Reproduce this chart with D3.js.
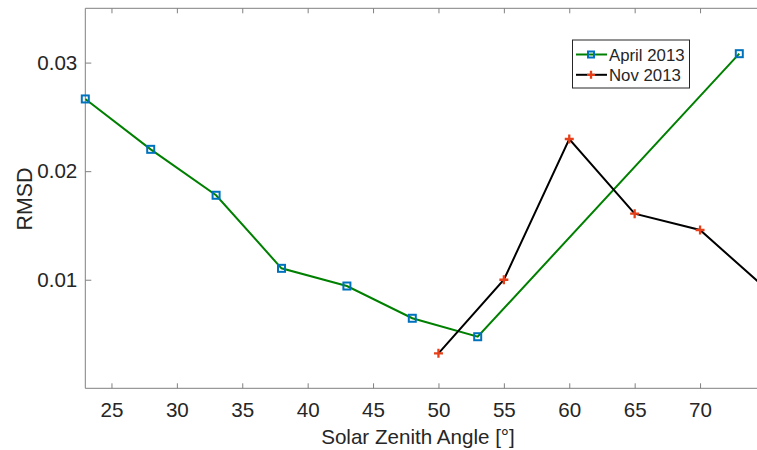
<!DOCTYPE html>
<html>
<head>
<meta charset="utf-8">
<script src="https://cdnjs.cloudflare.com/ajax/libs/d3/7.8.5/d3.min.js"></script>
<style>
  body { margin: 0; background: #fff; }
  text { font-family: "Liberation Sans", Arial, sans-serif; fill: #262626; }
</style>
</head>
<body>
<div id="chart"></div>
<script>
// Data
var aprilAngle = [23, 28, 33, 38, 43, 48, 53, 73];
var aprilRmsd  = [0.02665, 0.02201, 0.01778, 0.01105, 0.00942, 0.00645, 0.00475, 0.03082];

var novAngle = [50, 55, 60, 65, 70, 75];
var novRmsd  = [0.00322, 0.01000, 0.02296, 0.01608, 0.01458, 0.00922];

var xTicks = [25, 30, 35, 40, 45, 50, 55, 60, 65, 70];
var yTicks = [0.01, 0.02, 0.03];
var seriesNames = ["April 2013", "Nov 2013"];

// Sizes (note: "top" is taken by window.top, so use other names)
var W = 757, H = 450;
var plotLeft = 85.3, plotTop = 8.3, plotBottom = 388.3;
var fontSize = 20.6;

var svg = d3.select("#chart").append("svg")
    .attr("width", W)
    .attr("height", H);

// x axis runs past the right edge of the picture (xlim 23..75)
var x = d3.scaleLinear().domain([23, 75]).range([plotLeft, plotLeft + 52 * 13.08]);
var y = d3.scaleLinear().domain([0, 0.035]).range([plotBottom, plotTop]);
var plotRight = x.range()[1];

var axisColor = "#808080";

// box lines
svg.append("line").attr("x1", plotLeft).attr("x2", plotRight).attr("y1", plotTop).attr("y2", plotTop)
    .attr("stroke", axisColor).attr("stroke-width", 1);
svg.append("line").attr("x1", plotLeft).attr("x2", plotRight).attr("y1", plotBottom).attr("y2", plotBottom)
    .attr("stroke", axisColor).attr("stroke-width", 1);
svg.append("line").attr("x1", plotLeft).attr("x2", plotLeft).attr("y1", plotTop).attr("y2", plotBottom)
    .attr("stroke", axisColor).attr("stroke-width", 1);

// bottom axis, ticks pointing inward
var xAxis = svg.append("g").attr("transform", "translate(0," + plotBottom + ")")
    .call(d3.axisBottom(x).tickValues(xTicks).tickSizeInner(-5).tickSizeOuter(0).tickPadding(14));
// top ticks
var xTop = svg.append("g").attr("transform", "translate(0," + plotTop + ")")
    .call(d3.axisTop(x).tickValues(xTicks).tickSizeInner(-5).tickSizeOuter(0).tickFormat(""));
// left axis
var yAxis = svg.append("g").attr("transform", "translate(" + plotLeft + ",0)")
    .call(d3.axisLeft(y).tickValues(yTicks).tickSizeInner(-6).tickSizeOuter(0)
        .tickPadding(8).tickFormat(d3.format(".2f")));

[xAxis, xTop, yAxis].forEach(function(g) {
    g.select(".domain").remove();
    g.selectAll(".tick line").attr("stroke", axisColor);
    g.selectAll("text").attr("font-size", fontSize).attr("fill", "#262626")
        .style("font-family", "Liberation Sans, Arial, sans-serif");
});
xAxis.selectAll("text").attr("dy", "0.71em");

// axis titles
svg.append("text").attr("x", 418).attr("y", 444)
    .attr("text-anchor", "middle").attr("font-size", fontSize)
    .text("Solar Zenith Angle [\u00b0]");
svg.append("text")
    .attr("transform", "translate(32,199) rotate(-90)")
    .attr("text-anchor", "middle").attr("font-size", 21.4)
    .text("RMSD");

// clip lines to the axes box
svg.append("clipPath").attr("id", "plotclip")
    .append("rect").attr("x", plotLeft).attr("y", plotTop)
    .attr("width", plotRight - plotLeft).attr("height", plotBottom - plotTop);

var plot = svg.append("g").attr("clip-path", "url(#plotclip)");
var line = d3.line().x(function(d) { return x(d[0]); }).y(function(d) { return y(d[1]); });

var april = d3.zip(aprilAngle, aprilRmsd);
var nov = d3.zip(novAngle, novRmsd);

var green = "#008000", blue = "#0072BD", red = "#e5401a";

plot.append("path").datum(april).attr("d", line)
    .attr("fill", "none").attr("stroke", green).attr("stroke-width", 2);

// April markers: open squares
svg.selectAll(".sq").data(april).enter().append("rect").attr("class", "sq")
    .attr("x", function(d) { return x(d[0]) - 3.5; })
    .attr("y", function(d) { return y(d[1]) - 3.5; })
    .attr("width", 7).attr("height", 7)
    .attr("fill", "none").attr("stroke", blue).attr("stroke-width", 2);

plot.append("path").datum(nov).attr("d", line)
    .attr("fill", "none").attr("stroke", "#000").attr("stroke-width", 2);

// Nov markers: plus signs
plot.selectAll(".pl").data(nov).enter().append("path").attr("class", "pl")
    .attr("d", function(d) {
        var cx = x(d[0]), cy = y(d[1]), r = 4.5;
        return "M" + (cx - r) + "," + cy + "H" + (cx + r) + "M" + cx + "," + (cy - r) + "V" + (cy + r);
    })
    .attr("stroke", red).attr("stroke-width", 2.3);

// legend
var lg = svg.append("g");
lg.append("rect").attr("x", 572.5).attr("y", 40).attr("width", 117).attr("height", 48)
    .attr("fill", "#fff").attr("stroke", "#262626").attr("stroke-width", 1);

var rows = [
    { name: seriesNames[0], color: green, y: 54.5 },
    { name: seriesNames[1], color: "#000", y: 74.8 }
];
rows.forEach(function(r, i) {
    lg.append("line").attr("x1", 576).attr("x2", 607).attr("y1", r.y).attr("y2", r.y)
        .attr("stroke", r.color).attr("stroke-width", 2);
    if (i == 0) {
        lg.append("rect").attr("x", 588).attr("y", r.y - 3).attr("width", 6).attr("height", 6)
            .attr("fill", "none").attr("stroke", blue).attr("stroke-width", 2);
    } else {
        lg.append("path")
            .attr("d", "M587," + r.y + "H595M591," + (r.y - 4) + "V" + (r.y + 4))
            .attr("stroke", red).attr("stroke-width", 2.3);
    }
    lg.append("text").attr("x", 609).attr("y", r.y + 6)
        .attr("font-size", 16.8).text(r.name);
});
</script>
</body>
</html>
